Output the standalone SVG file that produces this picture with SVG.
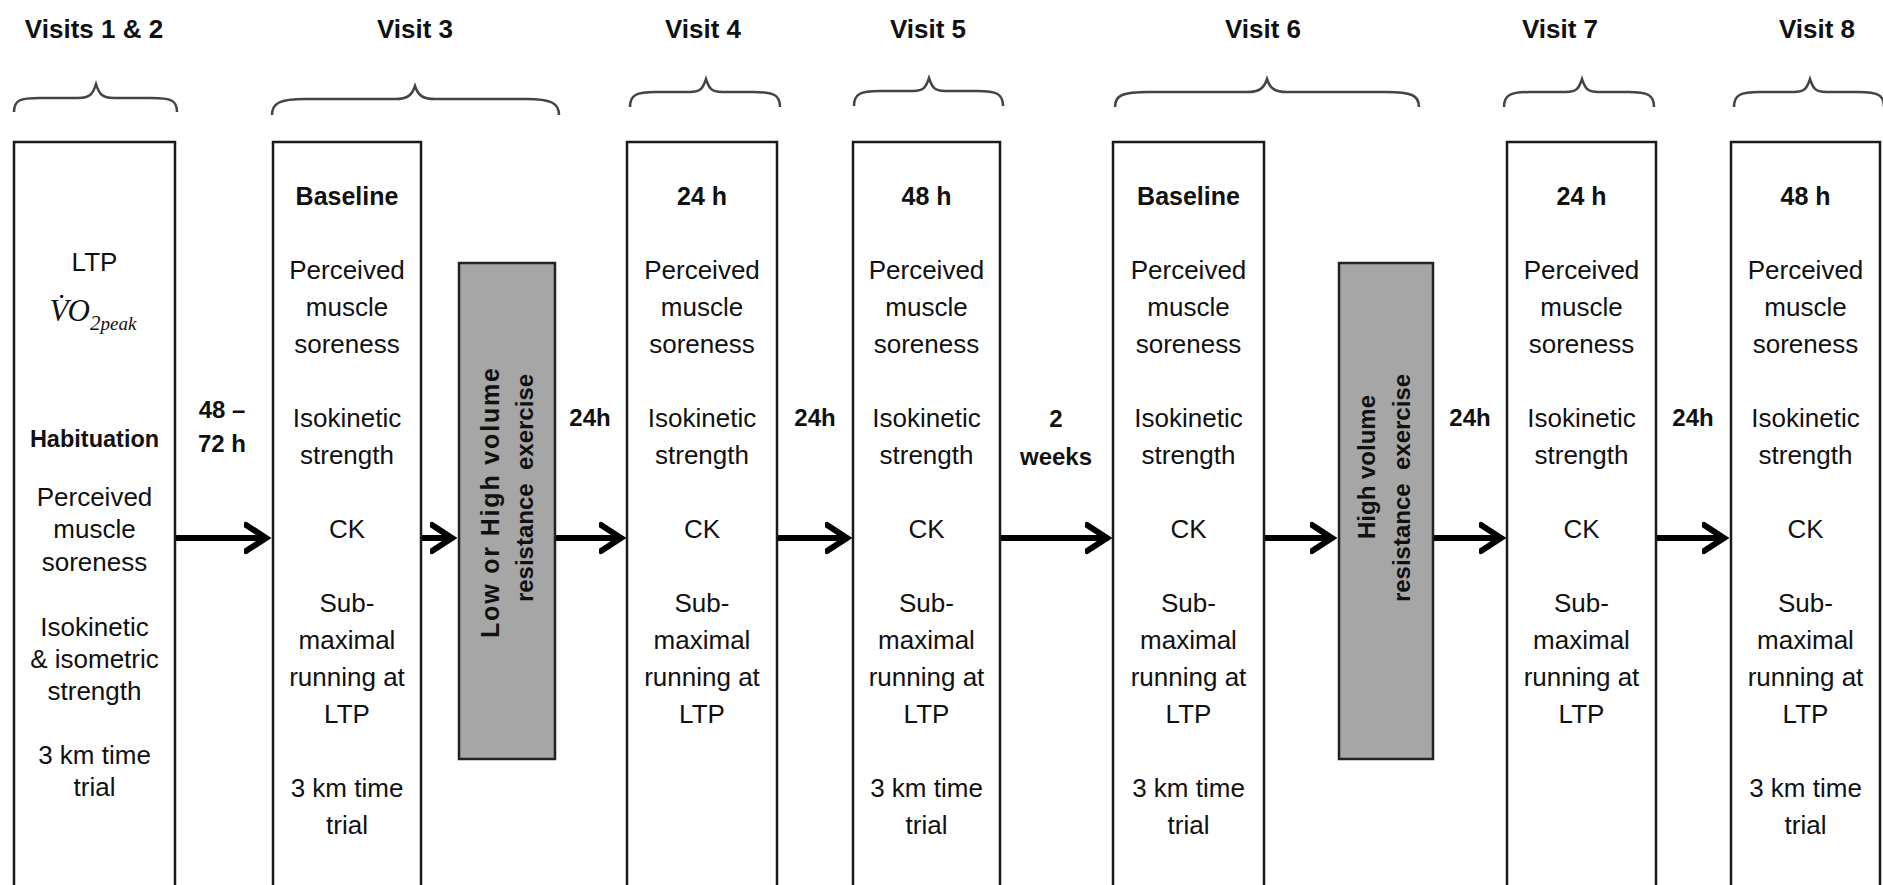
<svg xmlns="http://www.w3.org/2000/svg" width="1883" height="885" viewBox="0 0 1883 885">
<style>
text{font-family:"Liberation Sans",Arial,sans-serif;fill:#111}
.t{font-size:26px;font-weight:bold;text-anchor:middle}
.h{font-size:25px;font-weight:bold;text-anchor:middle}
.b{font-size:26px;text-anchor:middle}
.l{font-size:24px;font-weight:bold;text-anchor:middle}
.g{font-size:24px;font-weight:bold;text-anchor:middle}
.box{fill:#fff;stroke:#1a1a1a;stroke-width:2.5}
.grey{fill:#a6a6a6;stroke:#222;stroke-width:2.5}
.brace{fill:none;stroke:#444;stroke-width:2.5}
.arrow{fill:none;stroke:#000;stroke-width:6;marker-end:url(#ah)}
</style>
<defs>
<marker id="ah" markerUnits="userSpaceOnUse" markerWidth="30" markerHeight="34" viewBox="0 0 30 34" refX="18" refY="17" orient="auto">
<path d="M2,4 L22,17 L2,30" fill="none" stroke="#000" stroke-width="6" stroke-linecap="round"/>
</marker>
</defs>
<rect width="1883" height="885" fill="#fff"/>

<g id="titles">
<text class="t" x="94" y="38">Visits 1 &amp; 2</text>
<text class="t" x="415" y="38">Visit 3</text>
<text class="t" x="703" y="38">Visit 4</text>
<text class="t" x="928" y="38">Visit 5</text>
<text class="t" x="1263" y="38">Visit 6</text>
<text class="t" x="1560" y="38">Visit 7</text>
<text class="t" x="1817" y="38">Visit 8</text>
</g>

<g id="braces">
<path class="brace" d="M14,112 C14,100 20,98 40,98 L78,98 C90,98 93,94 96,84 C99,94 102,98 114,98 L151,98 C171,98 177,100 177,112"/>
<path class="brace" d="M272,115 C272,103 280,99 305,99 L395,99 C408,99 412,95 415,86 C418,95 422,99 435,99 L526,99 C551,99 559,103 559,115"/>
<path class="brace" d="M630,107 C630,95 636,92 656,92 L690,92 C701,92 703,88 706,79 C709,88 711,92 722,92 L754,92 C774,92 780,95 780,107"/>
<path class="brace" d="M854,106 C854,94 860,91 880,91 L913,91 C924,91 926,87 929,78 C932,87 934,91 945,91 L977,91 C997,91 1003,94 1003,106"/>
<path class="brace" d="M1115,107 C1115,95 1123,92 1148,92 L1247,92 C1260,92 1264,88 1267,79 C1270,88 1274,92 1287,92 L1386,92 C1411,92 1419,95 1419,107"/>
<path class="brace" d="M1504,107 C1504,95 1510,92 1530,92 L1566,92 C1577,92 1579,88 1582,79 C1585,88 1587,92 1598,92 L1628,92 C1648,92 1654,95 1654,107"/>
<path class="brace" d="M1734,107 C1734,95 1740,92 1760,92 L1794,92 C1805,92 1807,88 1810,79 C1813,88 1815,92 1826,92 L1858,92 C1878,92 1884,95 1884,107"/>
</g>

<g id="connectors">
<line class="arrow" x1="175" y1="538" x2="262" y2="538"/>
<line class="arrow" x1="421" y1="538" x2="448" y2="538"/>
<line class="arrow" x1="556" y1="538" x2="617" y2="538"/>
<line class="arrow" x1="777" y1="538" x2="843" y2="538"/>
<line class="arrow" x1="1000" y1="538" x2="1103" y2="538"/>
<line class="arrow" x1="1264" y1="538" x2="1328" y2="538"/>
<line class="arrow" x1="1433" y1="538" x2="1497" y2="538"/>
<line class="arrow" x1="1656" y1="538" x2="1720" y2="538"/>
</g>

<g id="interval-labels">
<text class="l" x="222" y="418">48 –</text>
<text class="l" x="222" y="452">72 h</text>
<text class="l" x="590" y="426">24h</text>
<text class="l" x="815" y="426">24h</text>
<text class="l" x="1056" y="427">2</text>
<text class="l" x="1056" y="465">weeks</text>
<text class="l" x="1470" y="426">24h</text>
<text class="l" x="1693" y="426">24h</text>
</g>

<g id="visit12">
<rect class="box" x="14" y="142" width="161" height="760"/>
<text class="b" x="94.5" y="271">LTP</text>
<text x="93" y="321" text-anchor="middle" style="font-family:'Liberation Serif','Times New Roman',serif;font-style:italic;font-size:31px">V̇O<tspan font-size="21" dy="9">2</tspan><tspan font-size="19">peak</tspan></text>
<text class="h" x="94.5" y="447" style="font-size:23.5px">Habituation</text>
<text class="b" x="94.5" y="506">Perceived</text>
<text class="b" x="94.5" y="538">muscle</text>
<text class="b" x="94.5" y="571">soreness</text>
<text class="b" x="94.5" y="636">Isokinetic</text>
<text class="b" x="94.5" y="668">&amp; isometric</text>
<text class="b" x="94.5" y="700">strength</text>
<text class="b" x="94.5" y="764">3 km time</text>
<text class="b" x="94.5" y="796">trial</text>
</g>

<g id="visit3">
<rect class="box" x="273" y="142" width="148" height="760"/>
<text class="h" x="347" y="205">Baseline</text>
<text class="b" x="347" y="279">Perceived</text>
<text class="b" x="347" y="316">muscle</text>
<text class="b" x="347" y="353">soreness</text>
<text class="b" x="347" y="427">Isokinetic</text>
<text class="b" x="347" y="464">strength</text>
<text class="b" x="347" y="538">CK</text>
<text class="b" x="347" y="612">Sub-</text>
<text class="b" x="347" y="649">maximal</text>
<text class="b" x="347" y="686">running at</text>
<text class="b" x="347" y="723">LTP</text>
<text class="b" x="347" y="797">3 km time</text>
<text class="b" x="347" y="834">trial</text>
</g>

<g id="exercise1">
<rect class="grey" x="459" y="263" width="96" height="496"/>
<text class="g" transform="translate(499,503) rotate(-90)" style="font-size:25px" textLength="270" lengthAdjust="spacing">Low or High volume</text>
<text class="g" transform="translate(533,488) rotate(-90)" xml:space="preserve">resistance  exercise</text>
</g>

<g id="visit4">
<rect class="box" x="627" y="142" width="150" height="760"/>
<text class="h" x="702" y="205">24 h</text>
<text class="b" x="702" y="279">Perceived</text>
<text class="b" x="702" y="316">muscle</text>
<text class="b" x="702" y="353">soreness</text>
<text class="b" x="702" y="427">Isokinetic</text>
<text class="b" x="702" y="464">strength</text>
<text class="b" x="702" y="538">CK</text>
<text class="b" x="702" y="612">Sub-</text>
<text class="b" x="702" y="649">maximal</text>
<text class="b" x="702" y="686">running at</text>
<text class="b" x="702" y="723">LTP</text>
</g>

<g id="visit5">
<rect class="box" x="853" y="142" width="147" height="760"/>
<text class="h" x="926.5" y="205">48 h</text>
<text class="b" x="926.5" y="279">Perceived</text>
<text class="b" x="926.5" y="316">muscle</text>
<text class="b" x="926.5" y="353">soreness</text>
<text class="b" x="926.5" y="427">Isokinetic</text>
<text class="b" x="926.5" y="464">strength</text>
<text class="b" x="926.5" y="538">CK</text>
<text class="b" x="926.5" y="612">Sub-</text>
<text class="b" x="926.5" y="649">maximal</text>
<text class="b" x="926.5" y="686">running at</text>
<text class="b" x="926.5" y="723">LTP</text>
<text class="b" x="926.5" y="797">3 km time</text>
<text class="b" x="926.5" y="834">trial</text>
</g>

<g id="visit6">
<rect class="box" x="1113" y="142" width="151" height="760"/>
<text class="h" x="1188.5" y="205">Baseline</text>
<text class="b" x="1188.5" y="279">Perceived</text>
<text class="b" x="1188.5" y="316">muscle</text>
<text class="b" x="1188.5" y="353">soreness</text>
<text class="b" x="1188.5" y="427">Isokinetic</text>
<text class="b" x="1188.5" y="464">strength</text>
<text class="b" x="1188.5" y="538">CK</text>
<text class="b" x="1188.5" y="612">Sub-</text>
<text class="b" x="1188.5" y="649">maximal</text>
<text class="b" x="1188.5" y="686">running at</text>
<text class="b" x="1188.5" y="723">LTP</text>
<text class="b" x="1188.5" y="797">3 km time</text>
<text class="b" x="1188.5" y="834">trial</text>
</g>

<g id="exercise2">
<rect class="grey" x="1339" y="263" width="94" height="496"/>
<text class="g" transform="translate(1375,467) rotate(-90)">High volume</text>
<text class="g" transform="translate(1410,488) rotate(-90)" xml:space="preserve">resistance  exercise</text>
</g>

<g id="visit7">
<rect class="box" x="1507" y="142" width="149" height="760"/>
<text class="h" x="1581.5" y="205">24 h</text>
<text class="b" x="1581.5" y="279">Perceived</text>
<text class="b" x="1581.5" y="316">muscle</text>
<text class="b" x="1581.5" y="353">soreness</text>
<text class="b" x="1581.5" y="427">Isokinetic</text>
<text class="b" x="1581.5" y="464">strength</text>
<text class="b" x="1581.5" y="538">CK</text>
<text class="b" x="1581.5" y="612">Sub-</text>
<text class="b" x="1581.5" y="649">maximal</text>
<text class="b" x="1581.5" y="686">running at</text>
<text class="b" x="1581.5" y="723">LTP</text>
</g>

<g id="visit8">
<rect class="box" x="1731" y="142" width="149" height="760"/>
<text class="h" x="1805.5" y="205">48 h</text>
<text class="b" x="1805.5" y="279">Perceived</text>
<text class="b" x="1805.5" y="316">muscle</text>
<text class="b" x="1805.5" y="353">soreness</text>
<text class="b" x="1805.5" y="427">Isokinetic</text>
<text class="b" x="1805.5" y="464">strength</text>
<text class="b" x="1805.5" y="538">CK</text>
<text class="b" x="1805.5" y="612">Sub-</text>
<text class="b" x="1805.5" y="649">maximal</text>
<text class="b" x="1805.5" y="686">running at</text>
<text class="b" x="1805.5" y="723">LTP</text>
<text class="b" x="1805.5" y="797">3 km time</text>
<text class="b" x="1805.5" y="834">trial</text>
</g>
</svg>
